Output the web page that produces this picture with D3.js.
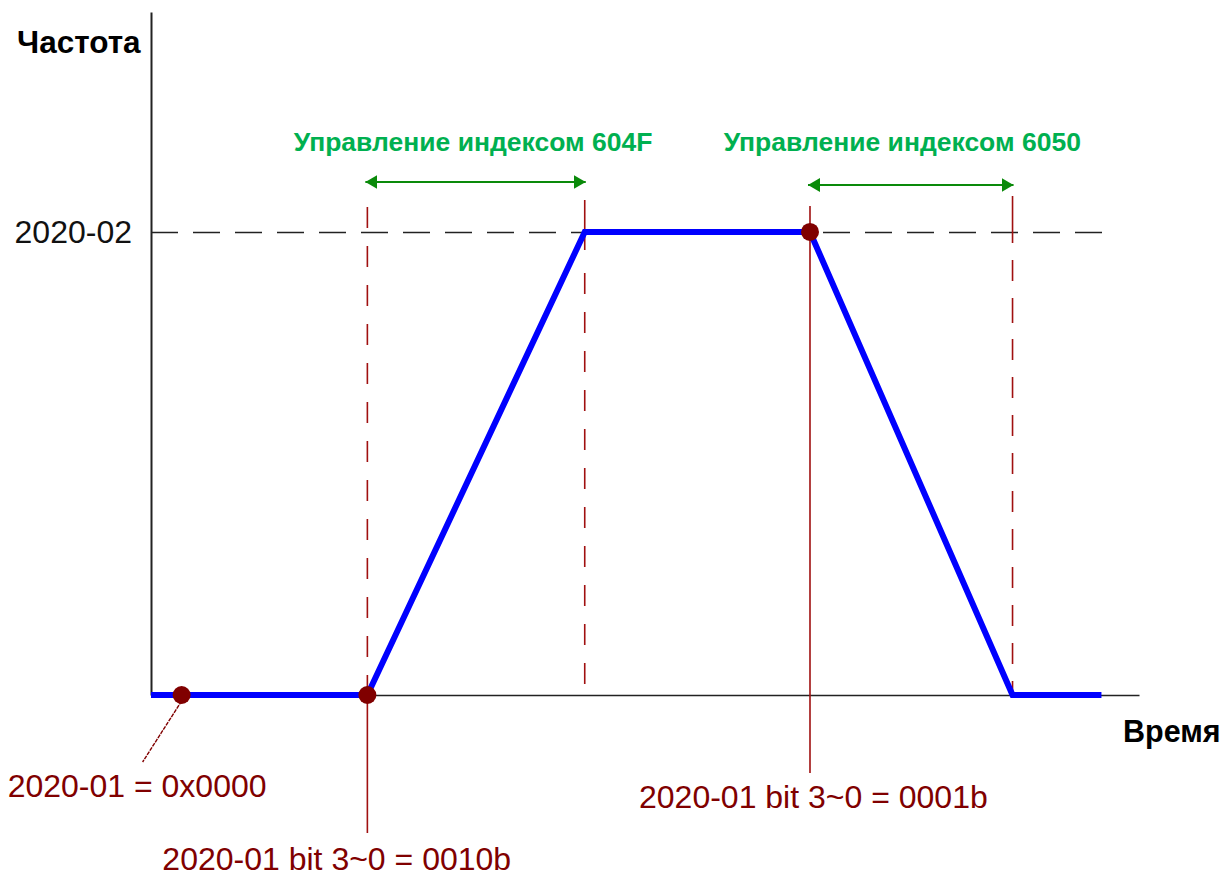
<!DOCTYPE html>
<html>
<head>
<meta charset="utf-8">
<script src="https://cdn.jsdelivr.net/npm/d3@7/dist/d3.min.js"></script>
<style>
  html, body { margin: 0; padding: 0; background: #fff; }
  svg { display: block; font-family: "Liberation Sans", Arial, sans-serif; }
</style>
</head>
<body>
<svg id="chart" width="1227" height="878"></svg>
<script>
// Frequency profile over time (time in arbitrary units, frequency relative to 2020-02)
const profileTime = [0, 21.9, 43.9, 66.7, 87.2, 96.2];
const profileFreq = [0, 0, 1, 1, 0, 0];

// Event points (red markers) and the control-window boundaries
const eventTime = [3.1, 21.9, 66.7];
const eventFreq = [0, 0, 1];
const eventLabels = ["2020-01 = 0x0000", "2020-01 bit 3~0 = 0010b", "2020-01 bit 3~0 = 0001b"];

const windowStart = [21.9, 66.7];
const windowEnd = [43.9, 87.2];
const windowLabels = ["Управление индексом 604F", "Управление индексом 6050"];

const yTickValues = [1];
const yTickLabels = ["2020-02"];
const yTitle = "Частота";
const xTitle = "Время";

const svg = d3.select("#chart");

const x = d3.scaleLinear().domain([0, 100]).range([151, 1139]);
const y = d3.scaleLinear().domain([0, 1.475]).range([695, 12]);

const maroon = "#800000";
const redLine = "#a01010";
const green = "#00b050";
const arrowGreen = "#0a8a0a";

// Arrowhead markers
const defs = svg.append("defs");
function marker(id, path) {
  defs.append("marker")
    .attr("id", id)
    .attr("viewBox", "0 0 12 14")
    .attr("refX", path === "end" ? 12 : 0).attr("refY", 7)
    .attr("markerWidth", 12).attr("markerHeight", 14)
    .attr("markerUnits", "userSpaceOnUse")
    .attr("orient", "auto")
    .append("path")
    .attr("d", path === "end" ? "M0,0 L12,7 L0,14 Z" : "M12,0 L0,7 L12,14 Z")
    .attr("fill", arrowGreen);
}
marker("arrEnd", "end");
marker("arrStart", "start");

// Y axis with the 2020-02 reference line drawn as a dashed tick
const yAxis = d3.axisLeft(y)
  .tickValues(yTickValues)
  .tickFormat((d, i) => yTickLabels[i])
  .tickSizeInner(-(x(96.4) - x(0)))
  .tickSizeOuter(0)
  .tickPadding(19);

const gy = svg.append("g").attr("transform", `translate(${x(0)},0)`).call(yAxis);
gy.select(".domain").attr("stroke", "#222").attr("stroke-width", 2);
gy.selectAll(".tick line")
  .attr("stroke", "#222").attr("stroke-width", 1.5)
  .attr("stroke-dasharray", "27 15");
gy.selectAll(".tick text")
  .attr("font-size", 32).attr("fill", "#111")
  .attr("font-family", "'Liberation Sans', Arial, sans-serif")
  .attr("dy", "0.32em");

// X axis (no ticks)
const xAxis = d3.axisBottom(x).tickValues([]).tickSizeOuter(0);
const gx = svg.append("g").attr("transform", `translate(0,${y(0)})`).call(xAxis);
gx.select(".domain").attr("stroke", "#222").attr("stroke-width", 1.5);

// Vertical boundary lines
// 604F window start (dashed above axis, solid below)
svg.append("line")
  .attr("x1", x(windowStart[0])).attr("x2", x(windowStart[0]))
  .attr("y1", y(1) - 25).attr("y2", y(0))
  .attr("stroke", redLine).attr("stroke-width", 1.6).attr("stroke-dasharray", "21 18");
svg.append("line")
  .attr("x1", x(windowStart[0])).attr("x2", x(windowStart[0]))
  .attr("y1", y(0)).attr("y2", 833)
  .attr("stroke", redLine).attr("stroke-width", 1.6);
// 604F window end
svg.append("line")
  .attr("x1", x(windowEnd[0])).attr("x2", x(windowEnd[0]))
  .attr("y1", y(1) - 32).attr("y2", y(0))
  .attr("stroke", redLine).attr("stroke-width", 1.6).attr("stroke-dasharray", "50 23 21 18 21 18 21 18 21 18 21 18 21 18 21 18 21 18 21 18 21 18 21 18 21 18");
// 6050 window start (solid through)
svg.append("line")
  .attr("x1", x(windowStart[1])).attr("x2", x(windowStart[1]))
  .attr("y1", y(1) - 26).attr("y2", 773)
  .attr("stroke", redLine).attr("stroke-width", 1.6);
// 6050 window end
svg.append("line")
  .attr("x1", x(windowEnd[1])).attr("x2", x(windowEnd[1]))
  .attr("y1", y(1) - 36).attr("y2", y(0))
  .attr("stroke", redLine).attr("stroke-width", 1.6).attr("stroke-dasharray", "47 17 21 17 25 16 21 17 21 17 21 17 21 17 21 17 21 17 21 17 21 17 21 17");

// Frequency profile
const line = d3.line().x((d, i) => x(profileTime[i])).y((d, i) => y(profileFreq[i]));
svg.append("path")
  .attr("d", line(profileTime))
  .attr("fill", "none")
  .attr("stroke", "#0000ff")
  .attr("stroke-width", 6)
  .attr("stroke-linejoin", "miter");

// Leader line for the first event label
svg.append("line")
  .attr("x1", x(eventTime[0])).attr("y1", y(eventFreq[0]) + 6)
  .attr("x2", x(eventTime[0]) - 39).attr("y2", 762)
  .attr("stroke", maroon).attr("stroke-width", 1.4)
  .attr("stroke-dasharray", "4 1");

// Event markers
svg.selectAll("circle.event")
  .data(eventTime)
  .join("circle")
  .attr("class", "event")
  .attr("cx", d => x(d))
  .attr("cy", (d, i) => y(eventFreq[i]))
  .attr("r", 9)
  .attr("fill", maroon);

// Event labels
const labelPos = [
  { dx: -174, y: 797 },
  { dx: -205, y: 870 },
  { dx: -171, y: 808 }
];
svg.selectAll("text.event")
  .data(eventLabels)
  .join("text")
  .attr("class", "event")
  .attr("x", (d, i) => x(eventTime[i]) + labelPos[i].dx)
  .attr("y", (d, i) => labelPos[i].y)
  .attr("font-size", 32)
  .attr("fill", maroon)
  .text(d => d);

// Control-window arrows and titles
const arrowY = [182, 185];
windowLabels.forEach((lbl, i) => {
  svg.append("line")
    .attr("x1", x(windowStart[i]) - 2).attr("x2", x(windowEnd[i]) + 1)
    .attr("y1", arrowY[i]).attr("y2", arrowY[i])
    .attr("stroke", arrowGreen).attr("stroke-width", 2)
    .attr("marker-start", "url(#arrStart)")
    .attr("marker-end", "url(#arrEnd)");
  svg.append("text")
    .attr("x", (x(windowStart[i]) + x(windowEnd[i])) / 2 + (i === 0 ? -3 : -9))
    .attr("y", 151)
    .attr("text-anchor", "middle")
    .attr("font-size", 26.5)
    .attr("font-weight", "bold")
    .attr("fill", green)
    .text(lbl);
});

// Axis titles
svg.append("text")
  .attr("x", 17).attr("y", 53)
  .attr("font-size", 31.5).attr("font-weight", "bold").attr("fill", "#000")
  .text(yTitle);
svg.append("text")
  .attr("x", 1123).attr("y", 742)
  .attr("font-size", 30.5).attr("font-weight", "bold").attr("fill", "#000")
  .text(xTitle);
</script>
</body>
</html>
